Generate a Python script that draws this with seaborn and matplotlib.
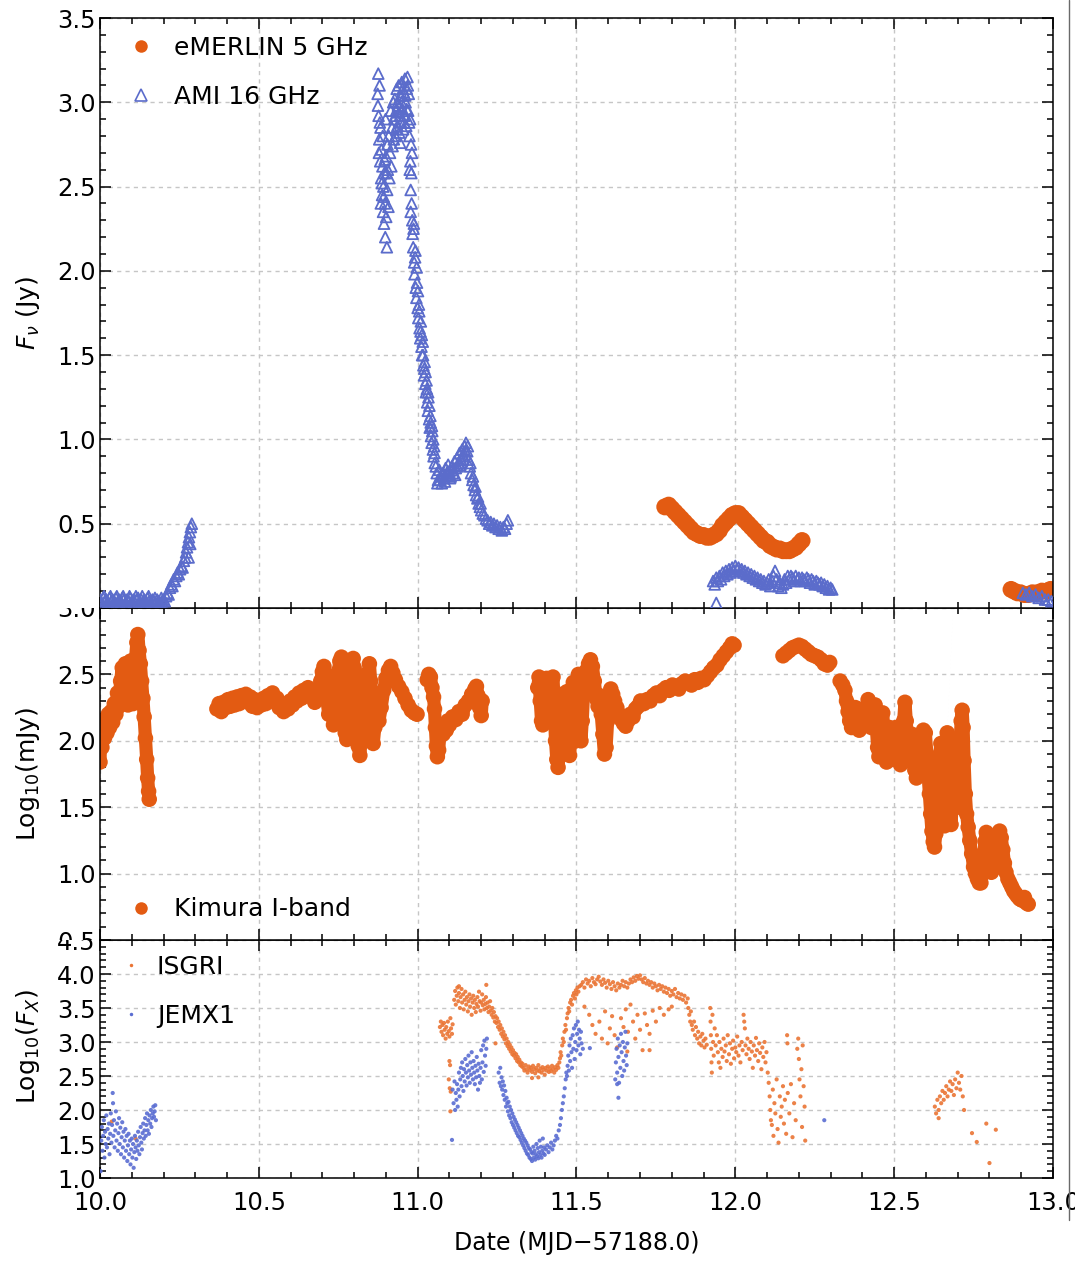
import matplotlib
matplotlib.use("Agg")
import numpy as np
import pandas as pd
import matplotlib.pyplot as plt
import seaborn as sns
from matplotlib.ticker import MultipleLocator, FormatStrFormatter, FixedLocator
from matplotlib.transforms import Bbox, TransformedBbox
from matplotlib.lines import Line2D

# ---------------------------------------------------------------- data
# AMI 16 GHz flux density (Jy) versus date (MJD-57188.0)
ami = [
    (10.000, 0.05), (10.005, 0.03), (10.010, 0.06), (10.015, 0.04), (10.020, 0.05), (10.025, 0.03),
    (10.030, 0.06), (10.035, 0.04), (10.040, 0.05), (10.045, 0.04), (10.050, 0.06), (10.055, 0.03),
    (10.060, 0.05), (10.065, 0.04), (10.070, 0.06), (10.075, 0.05), (10.080, 0.03), (10.085, 0.05),
    (10.090, 0.04), (10.095, 0.06), (10.100, 0.04), (10.105, 0.05), (10.110, 0.03), (10.115, 0.05),
    (10.120, 0.06), (10.125, 0.04), (10.130, 0.05), (10.135, 0.03), (10.140, 0.05), (10.145, 0.04),
    (10.150, 0.06), (10.155, 0.04), (10.160, 0.03), (10.165, 0.05), (10.170, 0.04), (10.175, 0.03),
    (10.180, 0.05), (10.185, 0.04), (10.190, 0.03), (10.195, 0.04),
    (10.003, 0.02), (10.013, 0.07), (10.023, 0.02), (10.033, 0.07), (10.043, 0.02), (10.053, 0.07),
    (10.063, 0.02), (10.073, 0.07), (10.083, 0.02), (10.093, 0.07), (10.103, 0.02), (10.113, 0.07),
    (10.123, 0.02), (10.133, 0.07), (10.143, 0.02), (10.153, 0.07), (10.163, 0.02), (10.173, 0.06),
    (10.183, 0.02), (10.193, 0.06),
    (10.200, 0.05), (10.204, 0.04), (10.208, 0.07), (10.212, 0.09), (10.216, 0.08), (10.220, 0.12),
    (10.224, 0.14), (10.228, 0.13), (10.232, 0.17), (10.236, 0.16), (10.240, 0.19), (10.244, 0.21),
    (10.248, 0.20), (10.252, 0.23), (10.256, 0.25), (10.260, 0.24), (10.264, 0.28), (10.268, 0.30),
    (10.271, 0.33), (10.274, 0.36), (10.277, 0.39), (10.280, 0.42), (10.283, 0.45), (10.286, 0.48),
    (10.289, 0.50), (10.284, 0.38), (10.279, 0.30),
    (10.874, 3.05), (10.876, 3.17), (10.877, 2.92), (10.879, 2.78), (10.880, 3.10), (10.882, 2.65),
    (10.883, 2.85), (10.885, 2.55), (10.886, 2.72), (10.888, 2.45), (10.889, 2.62), (10.891, 2.35),
    (10.892, 2.50), (10.894, 2.28), (10.895, 2.58), (10.897, 2.40), (10.898, 2.20), (10.900, 2.68),
    (10.901, 2.32), (10.903, 2.14), (10.904, 2.48), (10.906, 2.60), (10.908, 2.38), (10.909, 2.80),
    (10.911, 2.55), (10.913, 2.70), (10.915, 2.95), (10.917, 2.62), (10.919, 2.85), (10.921, 2.74),
    (10.923, 3.00),
    (10.875, 2.98), (10.878, 2.70), (10.881, 2.88), (10.884, 2.40), (10.887, 2.52), (10.890, 2.80),
    (10.893, 2.44), (10.896, 2.66), (10.899, 2.90), (10.902, 2.58), (10.905, 2.75),
    (10.926, 2.90), (10.928, 3.02), (10.930, 2.80), (10.932, 2.95), (10.934, 3.08), (10.936, 2.86),
    (10.938, 2.98), (10.940, 3.10), (10.942, 2.82), (10.944, 2.92), (10.946, 3.04), (10.948, 2.88),
    (10.950, 3.12), (10.952, 2.96), (10.954, 2.84), (10.956, 3.06), (10.958, 2.92), (10.960, 3.14),
    (10.962, 3.00), (10.964, 2.86), (10.966, 3.08), (10.968, 3.15), (10.970, 2.95), (10.972, 3.05),
    (10.974, 2.80), (10.976, 2.90), (10.977, 2.65), (10.978, 2.48), (10.979, 2.75), (10.980, 2.58),
    (10.981, 2.40), (10.982, 2.70),
    (10.925, 2.78), (10.929, 2.92), (10.933, 2.84), (10.937, 3.00), (10.941, 2.94), (10.945, 2.76),
    (10.949, 3.00), (10.953, 3.08), (10.957, 2.88), (10.961, 3.04), (10.965, 2.96), (10.969, 3.10),
    (10.973, 2.88), (10.975, 2.60), (10.978, 2.35),
    (10.983, 2.30), (10.984, 2.22), (10.986, 2.14), (10.987, 2.25), (10.989, 2.05), (10.990, 1.98),
    (10.992, 2.08), (10.994, 1.90), (10.996, 1.84), (10.998, 1.93), (11.000, 1.78), (11.002, 1.72),
    (11.004, 1.80), (11.006, 1.66), (11.008, 1.60), (11.010, 1.70), (11.012, 1.55), (11.014, 1.50),
    (11.016, 1.58), (11.018, 1.44), (11.020, 1.38), (11.022, 1.46), (11.024, 1.33), (11.026, 1.28),
    (11.028, 1.35), (11.030, 1.22), (11.032, 1.17), (11.034, 1.25), (11.036, 1.12), (11.038, 1.07),
    (11.040, 1.14), (11.042, 1.02), (11.044, 0.98), (11.046, 1.05), (11.048, 0.94), (11.050, 0.90),
    (11.052, 0.96), (11.054, 0.86),
    (10.988, 2.28), (10.993, 2.12), (10.997, 2.02), (11.001, 1.88), (11.005, 1.76), (11.009, 1.64),
    (11.013, 1.62), (11.017, 1.50), (11.021, 1.42), (11.025, 1.40), (11.029, 1.30), (11.033, 1.28),
    (11.037, 1.20), (11.041, 1.10), (11.045, 1.08), (11.049, 1.00), (11.053, 0.92), (11.057, 0.84),
    (11.060, 0.80), (11.064, 0.76), (11.068, 0.82), (11.072, 0.78), (11.076, 0.74), (11.080, 0.80),
    (11.084, 0.77), (11.088, 0.83), (11.092, 0.79), (11.096, 0.85), (11.100, 0.81), (11.104, 0.78),
    (11.108, 0.84), (11.112, 0.80), (11.116, 0.87), (11.120, 0.83), (11.124, 0.89), (11.128, 0.86),
    (11.132, 0.92), (11.136, 0.88), (11.140, 0.94), (11.144, 0.90), (11.148, 0.96), (11.152, 0.98),
    (11.156, 0.93), (11.160, 0.88), (11.164, 0.84), (11.168, 0.80), (11.172, 0.76), (11.176, 0.73),
    (11.180, 0.70), (11.184, 0.67), (11.188, 0.65), (11.192, 0.62), (11.196, 0.60), (11.200, 0.58),
    (11.205, 0.56), (11.210, 0.55), (11.215, 0.53), (11.220, 0.52), (11.225, 0.50), (11.230, 0.51),
    (11.235, 0.49), (11.240, 0.50), (11.245, 0.48), (11.250, 0.49), (11.255, 0.47), (11.260, 0.48),
    (11.265, 0.46), (11.270, 0.48), (11.275, 0.47), (11.280, 0.50), (11.284, 0.52),
    (11.062, 0.74), (11.070, 0.76), (11.078, 0.79), (11.086, 0.75), (11.094, 0.81), (11.102, 0.77),
    (11.110, 0.82), (11.118, 0.79), (11.126, 0.84), (11.134, 0.85), (11.142, 0.91), (11.150, 0.93),
    (11.158, 0.96), (11.166, 0.86), (11.174, 0.78), (11.182, 0.72), (11.190, 0.66), (11.198, 0.62),
    (11.940, 0.03),
    (11.930, 0.16), (11.935, 0.14), (11.940, 0.18), (11.945, 0.16), (11.950, 0.19), (11.955, 0.17),
    (11.960, 0.21), (11.965, 0.19), (11.970, 0.22), (11.975, 0.20), (11.980, 0.23), (11.985, 0.21),
    (11.990, 0.24), (11.995, 0.22), (12.000, 0.25), (12.005, 0.23), (12.010, 0.24), (12.015, 0.22),
    (12.020, 0.23), (12.025, 0.21), (12.030, 0.22), (12.035, 0.20), (12.040, 0.21), (12.045, 0.19),
    (12.050, 0.20), (12.055, 0.18), (12.060, 0.19), (12.065, 0.17), (12.070, 0.18), (12.075, 0.16),
    (12.080, 0.17), (12.085, 0.15), (12.090, 0.16), (12.095, 0.14), (12.100, 0.15), (12.105, 0.17),
    (12.110, 0.13), (12.115, 0.16), (12.120, 0.19), (12.125, 0.22), (12.130, 0.17), (12.135, 0.13),
    (12.140, 0.15), (12.145, 0.12), (12.150, 0.14), (12.155, 0.17), (12.160, 0.15), (12.165, 0.19),
    (12.170, 0.17), (12.175, 0.19), (12.180, 0.18), (12.185, 0.16), (12.190, 0.19), (12.195, 0.17),
    (12.200, 0.18), (12.205, 0.16), (12.210, 0.18), (12.215, 0.17), (12.220, 0.16), (12.225, 0.18),
    (12.230, 0.17), (12.235, 0.15), (12.240, 0.17), (12.245, 0.16), (12.250, 0.14), (12.255, 0.16),
    (12.260, 0.15), (12.265, 0.14), (12.270, 0.15), (12.275, 0.13), (12.280, 0.14), (12.285, 0.12),
    (12.290, 0.13), (12.295, 0.11), (12.300, 0.12), (12.305, 0.11),
    (12.905, 0.09), (12.915, 0.08), (12.925, 0.09), (12.935, 0.07), (12.945, 0.08), (12.955, 0.06),
    (12.965, 0.07), (12.975, 0.05), (12.985, 0.05), (12.995, 0.04),
]

# eMERLIN 5 GHz flux density (Jy)
emerlin = [
    (11.778, 0.60), (11.790, 0.61), (11.800, 0.59), (11.810, 0.57), (11.820, 0.55), (11.830, 0.53),
    (11.840, 0.51), (11.850, 0.49), (11.860, 0.47), (11.870, 0.45), (11.880, 0.44), (11.890, 0.43),
    (11.900, 0.43), (11.910, 0.42), (11.920, 0.42), (11.930, 0.43), (11.940, 0.44), (11.950, 0.46),
    (11.960, 0.49), (11.970, 0.51), (11.980, 0.53), (11.990, 0.55), (12.000, 0.56), (12.010, 0.56),
    (12.020, 0.54), (12.030, 0.52), (12.040, 0.50), (12.050, 0.48), (12.060, 0.46), (12.070, 0.44),
    (12.080, 0.42), (12.090, 0.40), (12.100, 0.39), (12.110, 0.37), (12.120, 0.36), (12.130, 0.35),
    (12.140, 0.35), (12.150, 0.34), (12.160, 0.34), (12.170, 0.34), (12.180, 0.35), (12.190, 0.36),
    (12.200, 0.38), (12.210, 0.40),
    (12.868, 0.11), (12.878, 0.10), (12.888, 0.09), (12.898, 0.09), (12.910, 0.08), (12.922, 0.08),
    (12.935, 0.09), (12.950, 0.09), (12.965, 0.10), (12.980, 0.10), (12.992, 0.11),
]

# Kimura I-band, log10 of flux density in mJy
kimura = [
    (10.000, 1.84), (10.003, 2.15), (10.006, 1.95), (10.010, 2.10), (10.014, 2.02), (10.018, 2.16),
    (10.022, 2.06), (10.026, 2.20), (10.030, 2.10), (10.035, 2.22), (10.040, 2.14), (10.045, 2.28),
    (10.050, 2.20), (10.055, 2.36), (10.060, 2.26), (10.065, 2.45), (10.070, 2.55), (10.073, 2.32),
    (10.076, 2.50), (10.080, 2.58), (10.084, 2.30), (10.088, 2.27), (10.092, 2.50), (10.096, 2.60),
    (10.100, 2.42), (10.104, 2.28), (10.108, 2.52), (10.112, 2.62), (10.116, 2.74), (10.119, 2.80),
    (10.123, 2.68), (10.127, 2.58), (10.131, 2.45), (10.135, 2.32), (10.139, 2.18), (10.143, 2.02),
    (10.147, 1.86), (10.150, 1.72), (10.153, 1.62), (10.155, 1.56),
    (10.368, 2.24), (10.375, 2.28), (10.382, 2.22), (10.389, 2.29), (10.396, 2.25), (10.403, 2.31),
    (10.410, 2.26), (10.417, 2.32), (10.424, 2.27), (10.431, 2.33), (10.438, 2.28), (10.445, 2.34),
    (10.452, 2.30), (10.459, 2.35), (10.466, 2.29), (10.473, 2.33), (10.480, 2.26), (10.487, 2.31),
    (10.494, 2.25), (10.501, 2.30), (10.508, 2.27), (10.515, 2.32), (10.522, 2.28), (10.529, 2.34),
    (10.536, 2.30), (10.543, 2.36), (10.550, 2.30), (10.557, 2.32), (10.564, 2.25), (10.571, 2.28),
    (10.578, 2.22), (10.585, 2.27), (10.592, 2.24), (10.599, 2.30), (10.606, 2.27), (10.613, 2.33),
    (10.620, 2.30), (10.627, 2.36), (10.634, 2.32), (10.641, 2.38), (10.648, 2.34), (10.655, 2.40),
    (10.662, 2.36), (10.669, 2.34), (10.676, 2.29), (10.683, 2.32),
    (10.690, 2.36), (10.695, 2.45), (10.700, 2.52), (10.705, 2.56), (10.710, 2.45), (10.715, 2.30),
    (10.720, 2.20), (10.725, 2.38), (10.730, 2.25), (10.735, 2.12), (10.740, 2.25), (10.745, 2.40),
    (10.750, 2.52), (10.755, 2.60), (10.760, 2.63), (10.764, 2.45), (10.768, 2.25), (10.772, 2.06),
    (10.777, 2.01), (10.782, 2.20), (10.787, 2.40), (10.792, 2.56), (10.797, 2.62), (10.800, 2.55),
    (10.804, 2.35), (10.808, 2.15), (10.813, 1.96), (10.818, 1.89), (10.823, 2.05), (10.828, 2.25),
    (10.833, 2.40), (10.838, 2.50), (10.843, 2.42), (10.848, 2.58), (10.852, 2.45), (10.856, 2.20),
    (10.860, 1.98), (10.865, 2.10), (10.870, 2.20), (10.878, 2.15), (10.885, 2.25), (10.893, 2.38),
    (10.900, 2.47), (10.908, 2.53), (10.915, 2.56), (10.922, 2.51), (10.930, 2.46), (10.940, 2.41),
    (10.950, 2.37), (10.960, 2.32), (10.970, 2.27), (10.980, 2.23), (10.990, 2.21), (10.998, 2.20),
    (11.030, 2.46), (11.035, 2.50), (11.040, 2.48), (11.045, 2.40), (11.050, 2.33), (11.053, 2.24),
    (11.056, 2.10), (11.059, 1.96), (11.062, 1.88), (11.066, 1.93), (11.070, 2.05), (11.075, 2.10),
    (11.080, 2.05), (11.085, 2.12), (11.090, 2.08), (11.095, 2.15), (11.100, 2.12), (11.110, 2.18),
    (11.120, 2.16), (11.130, 2.22), (11.140, 2.20), (11.150, 2.27), (11.160, 2.30), (11.170, 2.35),
    (11.180, 2.39), (11.185, 2.41), (11.190, 2.34), (11.195, 2.25), (11.200, 2.19), (11.203, 2.30),
    (11.378, 2.40), (11.382, 2.48), (11.386, 2.30), (11.390, 2.15), (11.394, 2.12), (11.398, 2.25),
    (11.402, 2.40), (11.406, 2.47), (11.410, 2.35), (11.414, 2.20), (11.418, 2.35), (11.422, 2.47),
    (11.426, 2.48), (11.430, 2.25), (11.434, 2.00), (11.438, 1.86), (11.442, 1.80), (11.446, 1.95),
    (11.450, 2.20), (11.454, 2.35), (11.458, 2.10), (11.462, 1.95), (11.466, 2.15), (11.470, 2.37),
    (11.474, 2.05), (11.478, 1.89), (11.482, 2.00), (11.486, 2.25), (11.490, 2.44), (11.494, 2.20),
    (11.498, 2.00), (11.502, 2.30), (11.506, 2.50), (11.510, 2.20), (11.514, 2.00), (11.518, 2.15),
    (11.522, 2.35), (11.527, 2.47), (11.532, 2.53), (11.538, 2.58), (11.544, 2.61), (11.550, 2.56),
    (11.556, 2.45), (11.562, 2.32), (11.568, 2.26), (11.573, 2.34), (11.578, 2.20), (11.583, 2.05),
    (11.588, 1.90), (11.593, 1.95), (11.598, 2.15), (11.603, 2.30), (11.608, 2.39), (11.614, 2.35),
    (11.620, 2.30), (11.627, 2.25), (11.634, 2.20), (11.641, 2.16), (11.648, 2.13), (11.655, 2.11),
    (11.662, 2.15), (11.670, 2.20), (11.678, 2.18), (11.686, 2.24), (11.694, 2.26), (11.702, 2.30),
    (11.712, 2.28), (11.722, 2.31), (11.732, 2.30), (11.742, 2.34), (11.752, 2.36), (11.762, 2.34),
    (11.772, 2.38), (11.782, 2.40), (11.792, 2.38), (11.802, 2.42), (11.812, 2.41), (11.822, 2.39),
    (11.832, 2.43), (11.842, 2.45), (11.852, 2.44), (11.862, 2.42), (11.872, 2.46), (11.882, 2.44),
    (11.892, 2.47), (11.902, 2.46), (11.912, 2.49), (11.922, 2.52), (11.932, 2.55), (11.942, 2.57),
    (11.952, 2.61), (11.962, 2.64), (11.972, 2.67), (11.982, 2.70), (11.990, 2.73), (11.996, 2.72),
    (12.150, 2.64), (12.160, 2.66), (12.170, 2.68), (12.180, 2.70), (12.190, 2.71), (12.200, 2.72),
    (12.210, 2.71), (12.220, 2.69), (12.230, 2.67), (12.240, 2.65), (12.250, 2.64), (12.260, 2.63),
    (12.270, 2.61), (12.280, 2.58), (12.290, 2.57), (12.297, 2.59),
    (12.330, 2.45), (12.338, 2.42), (12.345, 2.38), (12.350, 2.30), (12.355, 2.22), (12.360, 2.15),
    (12.366, 2.10), (12.372, 2.18), (12.378, 2.25), (12.384, 2.14), (12.390, 2.08), (12.396, 2.16),
    (12.402, 2.24), (12.408, 2.12), (12.414, 2.20), (12.418, 2.31), (12.422, 2.22), (12.428, 2.10),
    (12.434, 2.20), (12.440, 2.27), (12.444, 2.10), (12.448, 1.95), (12.452, 1.88), (12.456, 2.00),
    (12.460, 2.15), (12.464, 2.21), (12.468, 2.05), (12.472, 1.90), (12.476, 1.84), (12.480, 1.95),
    (12.485, 2.10), (12.490, 2.00), (12.495, 1.86), (12.500, 1.95), (12.505, 2.10), (12.510, 2.05),
    (12.515, 1.90), (12.520, 1.82), (12.525, 1.95), (12.530, 2.15), (12.534, 2.29), (12.538, 2.15),
    (12.542, 1.98), (12.546, 1.85), (12.550, 1.92), (12.555, 2.05), (12.560, 1.90), (12.565, 1.78),
    (12.570, 1.72), (12.575, 1.82), (12.580, 1.95), (12.586, 2.05), (12.592, 2.08), (12.598, 2.06),
    (12.603, 1.90), (12.607, 1.74), (12.611, 1.60), (12.615, 1.45), (12.619, 1.32), (12.623, 1.24),
    (12.627, 1.20), (12.631, 1.30), (12.635, 1.50), (12.639, 1.70), (12.643, 1.88), (12.647, 1.98),
    (12.651, 1.80), (12.655, 1.55), (12.659, 1.36), (12.663, 1.65), (12.667, 2.06), (12.671, 1.85),
    (12.675, 1.60), (12.679, 1.37), (12.683, 1.55), (12.687, 1.80), (12.691, 1.98), (12.695, 1.75),
    (12.699, 1.50), (12.703, 1.70), (12.707, 1.95), (12.711, 2.15), (12.714, 2.23), (12.717, 2.10),
    (12.720, 1.85), (12.724, 1.60), (12.728, 1.45), (12.733, 1.35), (12.738, 1.25), (12.744, 1.15),
    (12.750, 1.05), (12.756, 1.00), (12.762, 0.96), (12.768, 0.93), (12.773, 0.93), (12.778, 1.00),
    (12.782, 1.12), (12.786, 1.24), (12.790, 1.31), (12.794, 1.25), (12.798, 1.15), (12.802, 1.05),
    (12.806, 1.01), (12.810, 1.03), (12.815, 1.10), (12.820, 1.20), (12.826, 1.28), (12.832, 1.32),
    (12.837, 1.27), (12.842, 1.18), (12.847, 1.08), (12.852, 1.01), (12.858, 0.96), (12.864, 0.93),
    (12.870, 0.90), (12.876, 0.87), (12.882, 0.85), (12.888, 0.83), (12.895, 0.81), (12.902, 0.80),
    (12.910, 0.82), (12.916, 0.78), (12.922, 0.77),
]

# INTEGRAL/ISGRI, log10 of X-ray flux
isgri = [
    (10.037, 1.83), (10.112, 1.58),
    (11.070, 3.22), (11.073, 3.30), (11.075, 3.15), (11.078, 3.25), (11.080, 3.10), (11.083, 3.28),
    (11.085, 3.18), (11.088, 3.05), (11.090, 3.22), (11.093, 3.12), (11.095, 3.30), (11.098, 3.16),
    (11.100, 3.08), (11.103, 3.35), (11.105, 3.20), (11.108, 3.12), (11.110, 3.26),
    (11.100, 2.72), (11.102, 2.66), (11.101, 2.32), (11.103, 1.98), (11.104, 2.27), (11.098, 2.45),
    (11.115, 3.62), (11.118, 3.75), (11.120, 3.55), (11.123, 3.68), (11.125, 3.80), (11.128, 3.60),
    (11.130, 3.72), (11.133, 3.50), (11.135, 3.66), (11.138, 3.78), (11.140, 3.58), (11.143, 3.70),
    (11.145, 3.48), (11.148, 3.62), (11.150, 3.74), (11.153, 3.55), (11.155, 3.66), (11.158, 3.45),
    (11.160, 3.60), (11.163, 3.70), (11.165, 3.52), (11.168, 3.64), (11.170, 3.40), (11.173, 3.58),
    (11.175, 3.68), (11.178, 3.50), (11.180, 3.62), (11.183, 3.44), (11.185, 3.56), (11.188, 3.66),
    (11.190, 3.52), (11.193, 3.74), (11.195, 3.60), (11.198, 3.46), (11.200, 3.58), (11.203, 3.70),
    (11.205, 3.54), (11.208, 3.62), (11.210, 3.48), (11.213, 3.56), (11.215, 3.66), (11.216, 3.84),
    (11.218, 3.50), (11.220, 3.58), (11.223, 3.44), (11.225, 3.52), (11.228, 3.60), (11.230, 3.46),
    (11.233, 3.40), (11.235, 3.50), (11.238, 3.36), (11.240, 3.44), (11.243, 3.30), (11.245, 3.38),
    (11.130, 3.82), (11.245, 2.98),
    (11.248, 3.28), (11.250, 3.35), (11.253, 3.22), (11.255, 3.30), (11.258, 3.18), (11.260, 3.25),
    (11.263, 3.12), (11.265, 3.20), (11.268, 3.08), (11.270, 3.15), (11.273, 3.04), (11.275, 3.10),
    (11.278, 2.98), (11.280, 3.05), (11.283, 2.94), (11.285, 3.00), (11.288, 2.90), (11.290, 2.96),
    (11.293, 2.86), (11.295, 2.92), (11.298, 2.82), (11.300, 2.88), (11.303, 2.80), (11.305, 2.84),
    (11.308, 2.76), (11.310, 2.82), (11.313, 2.72), (11.315, 2.78), (11.318, 2.70), (11.320, 2.74),
    (11.323, 2.66), (11.325, 2.70), (11.328, 2.64), (11.330, 2.68),
    (11.333, 2.62), (11.336, 2.58), (11.340, 2.66), (11.343, 2.60), (11.346, 2.55), (11.350, 2.64),
    (11.353, 2.59), (11.356, 2.62), (11.360, 2.56), (11.363, 2.65), (11.366, 2.60), (11.370, 2.54),
    (11.373, 2.62), (11.376, 2.58), (11.380, 2.66), (11.383, 2.57), (11.386, 2.61), (11.390, 2.55),
    (11.393, 2.63), (11.396, 2.59), (11.400, 2.52), (11.403, 2.62), (11.406, 2.58), (11.410, 2.64),
    (11.413, 2.56), (11.416, 2.61), (11.420, 2.57), (11.423, 2.65), (11.426, 2.60), (11.430, 2.55),
    (11.433, 2.63), (11.436, 2.59), (11.440, 2.66), (11.443, 2.62), (11.446, 2.70),
    (11.360, 2.47), (11.380, 2.48),
    (11.448, 2.76), (11.450, 2.85), (11.452, 2.80), (11.455, 2.95), (11.457, 3.05), (11.460, 3.00),
    (11.462, 3.15), (11.465, 3.25), (11.467, 3.18), (11.470, 3.35), (11.472, 3.42), (11.475, 3.50),
    (11.477, 3.45), (11.480, 3.58), (11.483, 3.62), (11.486, 3.55), (11.489, 3.68), (11.492, 3.72),
    (11.495, 3.64), (11.498, 3.76), (11.500, 3.70), (11.503, 3.80), (11.506, 3.74), (11.510, 3.82),
    (11.515, 3.84), (11.520, 3.88), (11.525, 3.80), (11.530, 3.92), (11.535, 3.86), (11.540, 3.90),
    (11.545, 3.82), (11.550, 3.94), (11.555, 3.88), (11.560, 3.85), (11.565, 3.92), (11.570, 3.96),
    (11.575, 3.89), (11.580, 3.84), (11.585, 3.92), (11.590, 3.87), (11.595, 3.80), (11.600, 3.90),
    (11.605, 3.85), (11.610, 3.78), (11.615, 3.88), (11.620, 3.82), (11.625, 3.76), (11.630, 3.86),
    (11.635, 3.80), (11.640, 3.84), (11.645, 3.90), (11.650, 3.82), (11.655, 3.88), (11.660, 3.80),
    (11.665, 3.86), (11.670, 3.92), (11.675, 3.88), (11.680, 3.95), (11.685, 3.90), (11.690, 3.97),
    (11.695, 3.93), (11.700, 3.98), (11.705, 3.92), (11.710, 3.88), (11.715, 3.94), (11.720, 3.86),
    (11.725, 3.90), (11.730, 3.84), (11.735, 3.88), (11.740, 3.80), (11.745, 3.86), (11.750, 3.82),
    (11.755, 3.76), (11.760, 3.84), (11.765, 3.78), (11.770, 3.82), (11.775, 3.74), (11.780, 3.80),
    (11.785, 3.72), (11.790, 3.78), (11.795, 3.68), (11.800, 3.75), (11.805, 3.70), (11.810, 3.78),
    (11.815, 3.66), (11.820, 3.72), (11.825, 3.64), (11.830, 3.70), (11.835, 3.62), (11.840, 3.68),
    (11.845, 3.58), (11.850, 3.64),
    (11.525, 3.52), (11.540, 3.40), (11.550, 3.25), (11.560, 3.12), (11.572, 3.30), (11.580, 3.05),
    (11.590, 3.45), (11.598, 2.98), (11.605, 3.20), (11.612, 3.38), (11.620, 3.10), (11.628, 2.92),
    (11.640, 3.35), (11.648, 3.22), (11.655, 3.48), (11.662, 3.15), (11.670, 3.55), (11.678, 3.30),
    (11.685, 3.05), (11.692, 3.40), (11.700, 3.18), (11.708, 2.88), (11.715, 3.42), (11.722, 3.25),
    (11.730, 3.12), (11.740, 3.46), (11.750, 3.30), (11.762, 3.50), (11.775, 3.40), (11.790, 3.48),
    (11.800, 3.52), (11.660, 2.86), (11.730, 2.88),
    (11.852, 3.50), (11.855, 3.40), (11.858, 3.30), (11.860, 3.45), (11.863, 3.25), (11.866, 3.18),
    (11.870, 3.30), (11.873, 3.10), (11.876, 3.22), (11.880, 3.05), (11.883, 3.15), (11.886, 2.98),
    (11.890, 3.08), (11.893, 2.95), (11.896, 3.12), (11.900, 3.02), (11.903, 2.92), (11.906, 3.05),
    (11.910, 2.96),
    (11.921, 3.50), (11.922, 3.30), (11.923, 3.10), (11.924, 2.90), (11.925, 2.70), (11.926, 2.55),
    (11.928, 3.40), (11.930, 3.00), (11.932, 2.80), (11.935, 3.20), (11.938, 2.95), (11.942, 3.10),
    (11.945, 2.85), (11.948, 2.70), (11.950, 3.00), (11.953, 2.62), (11.956, 2.90), (11.960, 2.78),
    (11.963, 3.05), (11.966, 2.86), (11.970, 2.95), (11.973, 2.72), (11.976, 3.10), (11.980, 2.82),
    (11.983, 2.98), (11.986, 2.68), (11.990, 2.90), (11.993, 3.02), (11.996, 2.76), (12.000, 2.92),
    (12.003, 2.85), (12.006, 3.08), (12.010, 2.80), (12.013, 2.95), (12.016, 2.70), (12.020, 3.00),
    (12.023, 2.88), (12.026, 3.40), (12.028, 3.30), (12.030, 3.20), (12.032, 2.95), (12.035, 2.82),
    (12.038, 3.05), (12.042, 2.90), (12.045, 2.75), (12.048, 3.00), (12.052, 2.86), (12.055, 2.62),
    (12.058, 2.95), (12.062, 2.80), (12.065, 3.06), (12.068, 2.88), (12.072, 2.72), (12.075, 2.98),
    (12.078, 2.84), (12.082, 2.60), (12.085, 2.92), (12.088, 2.78), (12.092, 3.00), (12.095, 2.70),
    (12.098, 2.85),
    (12.102, 2.55), (12.105, 2.40), (12.108, 2.20), (12.110, 2.00), (12.112, 1.85), (12.115, 1.78),
    (12.118, 2.30), (12.120, 1.62), (12.123, 2.10), (12.126, 1.95), (12.130, 2.45), (12.133, 1.72),
    (12.136, 1.52), (12.140, 2.20), (12.143, 1.90), (12.146, 2.05), (12.150, 2.35), (12.153, 1.80),
    (12.156, 2.15), (12.160, 1.65), (12.163, 3.10), (12.164, 2.98), (12.165, 2.25), (12.170, 1.95),
    (12.175, 2.38), (12.180, 1.60), (12.185, 2.10), (12.190, 1.85), (12.195, 2.90), (12.198, 3.05),
    (12.200, 2.75), (12.202, 2.45), (12.205, 2.20), (12.208, 2.60), (12.210, 1.75), (12.212, 2.95),
    (12.215, 2.35), (12.218, 2.05), (12.220, 1.55),
    (12.628, 2.05), (12.632, 1.95), (12.636, 2.15), (12.640, 2.00), (12.644, 2.20), (12.648, 2.10),
    (12.652, 2.28), (12.656, 2.15), (12.660, 2.25), (12.664, 2.35), (12.668, 2.20), (12.672, 2.30),
    (12.676, 2.42), (12.680, 2.28), (12.684, 2.38), (12.688, 2.22), (12.692, 2.45), (12.696, 2.32),
    (12.700, 2.55), (12.704, 2.40), (12.708, 2.30), (12.712, 2.50), (12.716, 2.20), (12.720, 2.00),
    (12.640, 1.88),
    (12.745, 1.66), (12.760, 1.53), (12.800, 1.22), (12.820, 1.71), (12.790, 1.80),
]

# INTEGRAL/JEM-X1, log10 of X-ray flux
jemx1 = [
    (10.002, 1.10), (10.004, 1.55), (10.006, 1.75), (10.008, 1.40), (10.010, 1.62), (10.012, 1.85),
    (10.014, 1.30), (10.016, 1.68), (10.018, 1.50), (10.020, 1.92), (10.022, 1.45), (10.024, 1.72),
    (10.026, 1.58), (10.028, 1.80), (10.030, 1.35), (10.032, 1.65), (10.034, 1.95), (10.036, 1.52),
    (10.038, 1.78), (10.040, 2.25), (10.041, 2.10), (10.042, 1.62), (10.044, 1.85), (10.046, 1.45),
    (10.048, 1.70), (10.050, 1.98), (10.052, 1.55), (10.054, 1.80), (10.056, 1.40), (10.058, 1.66),
    (10.060, 1.88), (10.062, 1.50), (10.064, 1.74), (10.066, 1.35), (10.068, 1.60), (10.070, 1.82),
    (10.072, 1.45), (10.074, 1.68), (10.076, 1.30), (10.078, 1.55), (10.080, 1.72), (10.082, 1.40),
    (10.084, 1.62), (10.086, 1.25), (10.088, 1.48), (10.090, 1.65), (10.092, 1.35), (10.094, 1.55),
    (10.096, 1.20), (10.098, 1.42), (10.100, 1.58), (10.102, 1.30), (10.104, 1.50), (10.106, 1.15),
    (10.108, 1.38), (10.110, 1.62), (10.112, 1.45), (10.114, 1.28), (10.116, 1.55), (10.118, 1.40),
    (10.120, 1.68), (10.122, 1.48), (10.124, 1.35), (10.126, 1.60), (10.128, 1.75), (10.130, 1.52),
    (10.132, 1.42), (10.134, 1.66), (10.136, 1.80), (10.138, 1.58), (10.140, 1.70), (10.142, 1.88),
    (10.144, 1.62), (10.146, 1.78), (10.148, 1.95), (10.150, 1.70), (10.152, 1.85), (10.154, 1.65),
    (10.156, 1.92), (10.158, 1.80), (10.160, 2.00), (10.162, 1.75), (10.164, 1.88), (10.166, 1.95),
    (10.168, 2.05), (10.170, 1.90), (10.172, 1.98), (10.174, 2.07), (10.176, 1.85),
    (11.110, 2.30), (11.113, 2.10), (11.116, 2.42), (11.118, 2.00), (11.120, 2.25), (11.122, 2.15),
    (11.124, 2.38), (11.126, 2.05), (11.128, 2.30), (11.130, 2.55), (11.132, 2.20), (11.134, 2.45),
    (11.136, 2.62), (11.138, 2.35), (11.140, 2.70), (11.142, 2.50), (11.144, 2.28), (11.146, 2.60),
    (11.148, 2.42), (11.150, 2.75), (11.152, 2.55), (11.154, 2.36), (11.156, 2.66), (11.158, 2.48),
    (11.160, 2.80), (11.162, 2.58), (11.164, 2.40), (11.166, 2.70), (11.168, 2.52), (11.170, 2.85),
    (11.172, 2.62), (11.174, 2.45), (11.176, 2.72), (11.178, 2.55), (11.180, 2.38), (11.182, 2.65),
    (11.184, 2.48), (11.186, 2.78), (11.188, 2.58), (11.190, 2.30), (11.192, 2.68), (11.194, 2.50),
    (11.196, 2.40), (11.198, 2.62), (11.200, 2.88), (11.202, 2.45), (11.204, 2.70), (11.206, 2.95),
    (11.208, 2.56), (11.210, 3.02), (11.212, 2.80), (11.214, 2.65), (11.216, 2.90), (11.218, 3.05),
    (11.108, 1.56),
    (11.255, 2.55), (11.258, 2.40), (11.260, 2.62), (11.262, 2.35), (11.264, 2.48), (11.266, 2.30),
    (11.268, 2.42), (11.270, 2.22), (11.272, 2.36), (11.274, 2.15), (11.276, 2.28), (11.278, 2.05),
    (11.280, 2.18), (11.282, 2.10), (11.284, 1.98), (11.286, 2.12), (11.288, 1.92), (11.290, 2.05),
    (11.292, 1.88), (11.294, 2.00), (11.296, 1.82), (11.298, 1.95), (11.300, 1.78), (11.302, 1.90),
    (11.304, 1.74), (11.306, 1.86), (11.308, 1.70), (11.310, 1.82), (11.312, 1.66), (11.314, 1.78),
    (11.316, 1.62), (11.318, 1.74), (11.320, 1.60), (11.322, 1.70), (11.324, 1.56), (11.326, 1.66),
    (11.328, 1.52), (11.330, 1.62), (11.332, 1.48), (11.334, 1.58), (11.336, 1.44), (11.338, 1.55),
    (11.340, 1.40), (11.342, 1.52), (11.344, 1.36), (11.346, 1.48), (11.348, 1.34), (11.350, 1.44),
    (11.352, 1.30), (11.354, 1.42), (11.356, 1.28), (11.358, 1.38), (11.360, 1.25), (11.362, 1.36),
    (11.364, 1.46), (11.366, 1.30), (11.368, 1.40), (11.370, 1.27), (11.372, 1.35), (11.374, 1.50),
    (11.376, 1.32), (11.378, 1.44), (11.380, 1.29), (11.382, 1.38), (11.384, 1.55), (11.386, 1.34),
    (11.388, 1.46), (11.390, 1.30), (11.392, 1.40), (11.394, 1.58), (11.396, 1.36), (11.398, 1.45),
    (11.400, 1.34), (11.404, 1.42), (11.408, 1.48), (11.412, 1.38), (11.416, 1.45), (11.420, 1.52),
    (11.424, 1.42), (11.428, 1.48), (11.432, 1.55), (11.436, 1.62), (11.440, 1.58), (11.444, 1.70),
    (11.448, 1.78), (11.451, 1.88), (11.454, 2.00), (11.457, 2.10), (11.460, 2.20), (11.463, 2.32),
    (11.466, 2.45), (11.468, 2.55),
    (11.470, 2.50), (11.472, 2.65), (11.474, 2.80), (11.476, 2.58), (11.478, 2.95), (11.480, 2.72),
    (11.482, 3.05), (11.484, 2.85), (11.486, 2.62), (11.488, 3.10), (11.490, 2.90), (11.492, 3.20),
    (11.494, 2.75), (11.496, 3.00), (11.498, 3.25), (11.500, 2.88), (11.502, 3.12), (11.504, 3.30),
    (11.506, 2.95), (11.508, 3.18), (11.510, 3.05), (11.512, 2.82), (11.514, 3.15), (11.516, 2.98),
    (11.520, 2.90), (11.542, 2.91),
    (11.622, 2.45), (11.624, 2.70), (11.626, 2.90), (11.628, 2.55), (11.630, 3.05), (11.632, 2.78),
    (11.634, 2.40), (11.636, 2.95), (11.638, 2.62), (11.640, 3.12), (11.642, 2.85), (11.644, 2.50),
    (11.646, 3.00), (11.648, 2.72), (11.650, 2.58), (11.652, 2.92), (11.654, 3.15), (11.656, 2.80),
    (11.658, 2.66), (11.660, 2.98), (11.632, 2.18), (11.628, 2.38),
    (12.280, 1.85),
]

ORANGE = "#E35B12"
BLUE = "#5B6CCB"
DOT_ORANGE = "#EA7434"
DOT_BLUE = "#5A6DD2"

radio_ticks = [0.5, 1.0, 1.5, 2.0, 2.5, 3.0, 3.5]
optical_ticks = [0.5, 1.0, 1.5, 2.0, 2.5, 3.0]
xray_ticks = [1.0, 1.5, 2.0, 2.5, 3.0, 3.5, 4.0, 4.5]
date_ticks = [10.0, 10.5, 11.0, 11.5, 12.0, 12.5, 13.0]


def to_frame(pairs, gap=0.02):
    df = pd.DataFrame(pairs, columns=["t", "v"])
    df["seg"] = (df["t"].diff() > gap).cumsum()
    return df


df_ami = to_frame(ami)
df_em = to_frame(emerlin)
df_kim = to_frame(kimura)
df_isg = to_frame(isgri)
df_jem = to_frame(jemx1)

# ---------------------------------------------------------------- figure
sns.set_theme(style="ticks")
plt.rcParams["font.family"] = ["DejaVu Sans"]
plt.rcParams["mathtext.fontset"] = "dejavusans"
plt.rcParams["text.color"] = "black"
plt.rcParams["axes.labelcolor"] = "black"

W_PX, H_PX = 1075, 1264
fig = plt.figure(figsize=(W_PX / 100, H_PX / 100), dpi=100)
X0, X1 = 100, 1053


def rect(y0, y1):
    return [X0 / W_PX, 1 - y1 / H_PX, (X1 - X0) / W_PX, (y1 - y0) / H_PX]


ax_x = fig.add_axes(rect(940, 1178))
ax_o = fig.add_axes(rect(608, 940), sharex=ax_x)
ax_r = fig.add_axes(rect(18, 608), sharex=ax_x)

# radio panel
sns.lineplot(data=df_em, x="t", y="v", units="seg", estimator=None, sort=False, ax=ax_r,
             color=ORANGE, lw=10, solid_capstyle="round", solid_joinstyle="round",
             legend=False, zorder=2)
sns.scatterplot(data=df_em, x="t", y="v", ax=ax_r, s=150, color=ORANGE, edgecolor="none",
                legend=False, zorder=2)
sns.scatterplot(data=df_ami, x="t", y="v", ax=ax_r, marker="^", s=60, color=BLUE,
                facecolor="none", edgecolor=BLUE, linewidth=1.3, legend=False, zorder=3)

# optical panel
sns.lineplot(data=df_kim, x="t", y="v", units="seg", estimator=None, sort=False, ax=ax_o,
             color=ORANGE, lw=9.5, solid_capstyle="round", solid_joinstyle="round",
             legend=False, zorder=2)
sns.scatterplot(data=df_kim, x="t", y="v", ax=ax_o, s=125, color=ORANGE, edgecolor="none",
                legend=False, zorder=2)

# X-ray panel
sns.scatterplot(data=df_isg, x="t", y="v", ax=ax_x, s=9, color=DOT_ORANGE, edgecolor="none",
                alpha=0.9, legend=False, zorder=2)
sns.scatterplot(data=df_jem, x="t", y="v", ax=ax_x, s=9, color=DOT_BLUE, edgecolor="none",
                alpha=0.9, legend=False, zorder=3)

# ---------------------------------------------------------------- axes styling
ax_x.set_xlim(10.0, 13.0)
ax_r.set_ylim(0.0, 3.5)
ax_o.set_ylim(0.5, 3.0)
ax_x.set_ylim(1.0, 4.5)

ax_r.yaxis.set_major_locator(FixedLocator(radio_ticks))
ax_o.yaxis.set_major_locator(FixedLocator(optical_ticks))
ax_x.yaxis.set_major_locator(FixedLocator(xray_ticks))
ax_x.xaxis.set_major_locator(FixedLocator(date_ticks))

for ax in (ax_r, ax_o, ax_x):
    ax.xaxis.set_minor_locator(MultipleLocator(0.1))
    ax.yaxis.set_minor_locator(MultipleLocator(0.1))
    ax.yaxis.set_major_formatter(FormatStrFormatter("%.1f"))
    ax.xaxis.set_major_formatter(FormatStrFormatter("%.1f"))
    ax.tick_params(which="both", direction="in", top=True, right=True, colors="black",
                   labelsize=17.5, width=1.1)
    ax.tick_params(which="major", length=8)
    ax.tick_params(which="minor", length=4.5)
    ax.tick_params(axis="y", pad=3)
    ax.tick_params(axis="x", pad=9)
    ax.grid(True, which="major", linestyle=(0, (3, 3)), color="#c6c6c6", linewidth=1.0)
    ax.set_axisbelow(True)
    for sp in ax.spines.values():
        sp.set_linewidth(1.1)
        sp.set_color("black")
    ax.set_facecolor("white")

ax_r.tick_params(labelbottom=False)
ax_o.tick_params(labelbottom=False)
ax_r.set_xlabel("")
ax_o.set_xlabel("")

ax_r.set_ylabel(r"$F_\nu$ (Jy)", fontsize=18)
ax_o.set_ylabel(r"Log$_{10}$(mJy)", fontsize=18)
ax_x.set_ylabel(r"Log$_{10}$($F_X$)", fontsize=18)
ax_r.yaxis.set_label_coords(-0.061, 0.5)
ax_o.yaxis.set_label_coords(-0.061, 0.5)
ax_x.yaxis.set_label_coords(-0.061, 0.55)
ax_x.set_xlabel("Date (MJD\u221257188.0)", fontsize=17, labelpad=12)

# ---------------------------------------------------------------- legends
leg_kw = dict(frameon=False, borderpad=0, borderaxespad=0, handlelength=1.0,
              labelspacing=1.0, fontsize=18, labelcolor="black")
h_em = Line2D([], [], ls="none", marker="o", ms=9, color=ORANGE, mec="none")
h_ami = Line2D([], [], ls="none", marker="^", ms=8.5, mfc="none", mec=BLUE, mew=1.2)
ax_r.legend([h_em, h_ami], ["eMERLIN 5 GHz", "AMI 16 GHz"], loc="upper left",
            bbox_to_anchor=(0.0294, 0.970), handletextpad=0.85, **leg_kw)

h_kim = Line2D([], [], ls="none", marker="o", ms=9, color=ORANGE, mec="none")
ax_o.legend([h_kim], ["Kimura I-band"], loc="lower left",
            bbox_to_anchor=(0.0294, 0.056), handletextpad=0.85, **leg_kw)

h_isg = Line2D([], [], ls="none", marker="o", ms=2.5, color=DOT_ORANGE, mec="none")
h_jem = Line2D([], [], ls="none", marker="o", ms=2.5, color=DOT_BLUE, mec="none")
ax_x.legend([h_isg, h_jem], ["ISGRI", "JEMX1"], loc="upper left",
            bbox_to_anchor=(0.019, 0.938), handletextpad=0.55, **leg_kw)


# tick labels sitting on a shared edge are cut by the panel they belong to
def clip_labels(ax, y0_px, y1_px):
    box = TransformedBbox(Bbox.from_extents(0, 1 - y1_px / H_PX, 1, 1 - y0_px / H_PX),
                          fig.transFigure)
    for tick in ax.yaxis.get_major_ticks():
        tick.label1.set_clip_box(box)
        tick.label1.set_clip_on(True)


clip_labels(ax_o, 608, 940)
clip_labels(ax_x, 940, H_PX)

# thin page edge on the right
fig.add_artist(Line2D([1068.5 / W_PX, 1068.5 / W_PX], [0.035, 1.0], transform=fig.transFigure,
                      color="#6a6a6a", lw=1.0))

fig.savefig("out.png", dpi=100)
